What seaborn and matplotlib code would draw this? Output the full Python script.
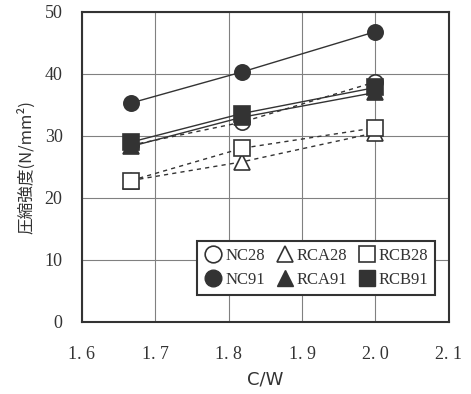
import matplotlib
matplotlib.use("Agg")
import matplotlib.pyplot as plt
from matplotlib.lines import Line2D
import seaborn as sns
import pandas as pd

# ---- data ----
cw = [1.667, 1.818, 2.0]
nc28 = [28.5, 32.2, 38.7]
rca28 = [22.8, 25.8, 30.5]
rcb28 = [22.8, 28.0, 31.3]
nc91 = [35.3, 40.3, 46.8]
rca91 = [28.3, 33.0, 37.0]
rcb91 = [29.0, 33.6, 37.8]
x_ticks = [1.6, 1.7, 1.8, 1.9, 2.0, 2.1]
x_tick_labels = ["1. 6", "1. 7", "1. 8", "1. 9", "2. 0", "2. 1"]
y_ticks = [0, 10, 20, 30, 40, 50]
y_tick_labels = ["0", "10", "20", "30", "40", "50"]

sns.set_theme(style="white")
plt.rcParams['font.family'] = ['Liberation Serif', 'DejaVu Sans']

ink = "#333333"
fig = plt.figure(figsize=(4.71, 3.94), dpi=100)
ax = fig.add_axes([0.174, 0.183, 0.779, 0.787])

series = [
    ("RCA28", rca28, "^", "--", False),
    ("RCB28", rcb28, "s", "--", False),
    ("NC28", nc28, "o", "--", False),
    ("NC91", nc91, "o", "-", True),
    ("RCA91", rca91, "^", "-", True),
    ("RCB91", rcb91, "s", "-", True),
]

for name, vals, mk, ls, filled in series:
    df = pd.DataFrame({"x": cw, "y": vals})
    sns.lineplot(data=df, x="x", y="y", ax=ax, color=ink, linestyle=ls,
                 linewidth=1.0, marker=mk, markersize=11,
                 markerfacecolor=ink if filled else "white",
                 markeredgecolor=ink, markeredgewidth=1.2, zorder=3)
    if ls == "--":
        ax.lines[-1].set_dashes((3, 3))

ax.set_xlim(1.6, 2.1)
ax.set_ylim(0, 50)
ax.set_xticks(x_ticks)
ax.set_xticklabels(x_tick_labels)
ax.set_yticks(y_ticks)
ax.set_yticklabels(y_tick_labels)
ax.tick_params(axis="x", length=0, pad=17, labelsize=13, colors=ink)
ax.tick_params(axis="y", length=0, pad=14, labelsize=13, colors=ink)
ax.grid(True, color="#808080", linewidth=0.8)
for s in ax.spines.values():
    s.set_color(ink)
    s.set_linewidth(1.5)

ax.set_xlabel("C/W", fontsize=13, color=ink, family=["DejaVu Sans"], labelpad=6)
ax.set_ylabel("圧縮強度(N/mm²)", fontsize=12, color=ink,
              family=["Noto Sans CJK JP", "DejaVu Sans"], labelpad=7)

handles = [
    Line2D([], [], marker="o", linestyle="none", markersize=12, markerfacecolor="white", markeredgecolor=ink, markeredgewidth=1.2, label="NC28"),
    Line2D([], [], marker="o", linestyle="none", markersize=12, markerfacecolor=ink, markeredgecolor=ink, label="NC91"),
    Line2D([], [], marker="^", linestyle="none", markersize=12, markerfacecolor="white", markeredgecolor=ink, markeredgewidth=1.2, label="RCA28"),
    Line2D([], [], marker="^", linestyle="none", markersize=12, markerfacecolor=ink, markeredgecolor=ink, label="RCA91"),
    Line2D([], [], marker="s", linestyle="none", markersize=12, markerfacecolor="white", markeredgecolor=ink, markeredgewidth=1.2, label="RCB28"),
    Line2D([], [], marker="s", linestyle="none", markersize=12, markerfacecolor=ink, markeredgecolor=ink, label="RCB91"),
]
leg = ax.legend(handles=handles, ncol=3, loc="lower right", bbox_to_anchor=(0.985, 0.06),
                frameon=True, fancybox=False, fontsize=12, handletextpad=0.1,
                columnspacing=0.6, borderpad=0.4, labelspacing=0.5, handlelength=1.2)
leg.get_frame().set_edgecolor(ink)
leg.get_frame().set_linewidth(1.5)
leg.get_frame().set_alpha(1)
for t in leg.get_texts():
    t.set_color(ink)

fig.savefig("out.png", dpi=100, facecolor="white")
